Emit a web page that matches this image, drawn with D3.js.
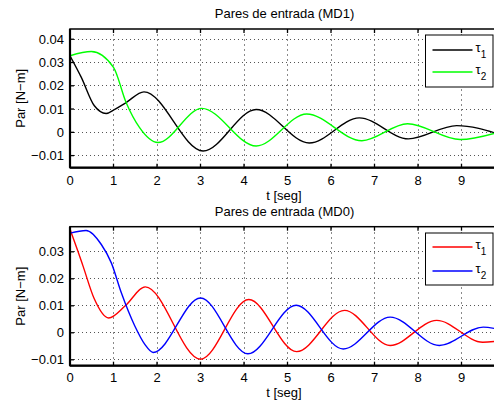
<!DOCTYPE html>
<html>
<head>
<meta charset="utf-8">
<script src="https://cdn.jsdelivr.net/npm/d3@7"></script>
<style>
  html, body { margin: 0; padding: 0; background: #fff; }
  svg { display: block; }
  text { font-family: "Liberation Sans", Arial, Helvetica, sans-serif; fill: #000; }
</style>
</head>
<body>
<svg id="chart" width="494" height="404"></svg>
<script>
// ---------------- Data ----------------
const xTicks = [0, 1, 2, 3, 4, 5, 6, 7, 8, 9];
const yTicksTop = [-0.01, 0, 0.01, 0.02, 0.03, 0.04];
const yTicksBottom = [-0.01, 0, 0.01, 0.02, 0.03];

const titleTop = "Pares de entrada (MD1)";
const titleBottom = "Pares de entrada (MD0)";
const xLabel = "t [seg]";
const yLabel = "Par [N\u2212m]";

// MD1 — tau1 (black)
const md1Tau1T = [0, 0.26, 0.56, 0.83, 1.03, 1.29, 1.70, 3.06, 4.28, 5.50, 6.65, 7.78, 8.89, 9.9];
const md1Tau1V = [0.0329, 0.0236, 0.0114, 0.0081, 0.0099, 0.0128, 0.0174, -0.0080, 0.0098, -0.0046, 0.0062, -0.0028, 0.0029, -0.0010];
// MD1 — tau2 (green)
const md1Tau2T = [0, 0.49, 1.00, 1.29, 1.60, 2.02, 3.03, 4.28, 5.44, 6.71, 7.76, 8.97, 9.9];
const md1Tau2V = [0.0329, 0.0347, 0.0279, 0.0128, 0.0020, -0.0044, 0.0103, -0.0059, 0.0079, -0.0036, 0.0037, -0.0031, 0.0003];

// MD0 — tau1 (red)
const md0Tau1T = [0, 0.18, 0.30, 0.55, 0.89, 1.27, 1.73, 3.00, 4.11, 5.21, 6.31, 7.36, 8.43, 9.49, 9.9];
const md0Tau1V = [0.0384, 0.0303, 0.0247, 0.0129, 0.0055, 0.0100, 0.0170, -0.0098, 0.0123, -0.0070, 0.0083, -0.0047, 0.0046, -0.0035, -0.0030];
// MD0 — tau2 (blue)
const md0Tau2T = [0, 0.37, 0.72, 0.95, 1.18, 1.49, 1.72, 1.91, 3.00, 4.09, 5.20, 6.28, 7.36, 8.49, 9.50, 9.9];
const md0Tau2V = [0.0369, 0.0379, 0.0327, 0.0259, 0.0148, 0.0025, -0.0043, -0.0073, 0.0129, -0.0078, 0.0102, -0.0060, 0.0058, -0.0047, 0.0021, 0.0011];

const seriesNames = ["\u03c4", "\u03c4"];
const seriesSubs = ["1", "2"];

// ---------------- Drawing ----------------
const svg = d3.select("#chart");
const fontSize = 13;

function fmt(v) {
  if (Math.abs(v) < 1e-12) return "0";
  const s = d3.format(".2f")(Math.abs(v));
  return (v < 0 ? "\u2212" : "") + s;
}

function drawPanel(cfg) {
  const { left, right, top, bottom, xDomain, yDomain, yTicks, title, titleY, tickLabelY, xLabelY, series, legend, id } = cfg;
  const x = d3.scaleLinear().domain(xDomain).range([left, right]);
  const y = d3.scaleLinear().domain(yDomain).range([bottom, top]);
  const g = svg.append("g");

  // clip
  svg.append("clipPath").attr("id", "clip" + id)
    .append("rect").attr("x", left).attr("y", top).attr("width", right - left).attr("height", bottom - top);

  // grid
  g.append("g").selectAll("line").data(xTicks.filter(d => d > 0)).join("line")
    .attr("x1", d => x(d)).attr("x2", d => x(d)).attr("y1", top).attr("y2", bottom)
    .attr("stroke", "#8a8a8a").attr("stroke-width", 1).attr("stroke-dasharray", "2,3")
    .attr("shape-rendering", "crispEdges");
  g.append("g").selectAll("line").data(yTicks).join("line")
    .attr("x1", left).attr("x2", right).attr("y1", d => y(d)).attr("y2", d => y(d))
    .attr("stroke", "#555").attr("stroke-width", 1).attr("stroke-dasharray", "1,3")
    .attr("shape-rendering", "crispEdges");

  // series
  const line = d3.line().x(d => x(d[0])).y(d => y(d[1])).curve(d3.curveMonotoneX);
  series.forEach(s => {
    const pts = s.t.map((t, i) => [t, s.v[i]]);
    g.append("path").datum(pts).attr("d", line)
      .attr("fill", "none").attr("stroke", s.color).attr("stroke-width", 1.4)
      .attr("clip-path", `url(#clip${id})`);
  });

  // axes box
  g.append("rect").attr("x", left).attr("y", top).attr("width", right - left).attr("height", bottom - top)
    .attr("fill", "none").attr("stroke", "#000").attr("stroke-width", 1.5);
  g.append("line").attr("x1", left).attr("x2", left).attr("y1", top).attr("y2", bottom)
    .attr("stroke", "#000").attr("stroke-width", 2.2);
  g.append("line").attr("x1", left).attr("x2", right).attr("y1", bottom).attr("y2", bottom)
    .attr("stroke", "#000").attr("stroke-width", 2.2);

  // ticks (inward)
  const tl = 4;
  g.append("g").selectAll("line").data(xTicks).join("line")
    .attr("x1", d => x(d)).attr("x2", d => x(d)).attr("y1", bottom).attr("y2", bottom - tl)
    .attr("stroke", "#000").attr("stroke-width", 1.3);
  g.append("g").selectAll("line").data(xTicks).join("line")
    .attr("x1", d => x(d)).attr("x2", d => x(d)).attr("y1", top).attr("y2", top + tl)
    .attr("stroke", "#000").attr("stroke-width", 1.3);
  g.append("g").selectAll("line").data(yTicks).join("line")
    .attr("x1", left).attr("x2", left + tl).attr("y1", d => y(d)).attr("y2", d => y(d))
    .attr("stroke", "#000").attr("stroke-width", 1.3);

  // tick labels
  g.append("g").selectAll("text").data(xTicks).join("text")
    .attr("x", d => x(d)).attr("y", tickLabelY).attr("text-anchor", "middle")
    .attr("font-size", fontSize).text(d => d);
  g.append("g").selectAll("text").data(yTicks).join("text")
    .attr("x", left - 6).attr("y", d => y(d)).attr("dy", "0.35em").attr("text-anchor", "end")
    .attr("font-size", fontSize).text(fmt);

  // title & labels
  g.append("text").attr("x", 284.5).attr("y", titleY).attr("text-anchor", "middle")
    .attr("font-size", fontSize).text(title);
  g.append("text").attr("x", 284).attr("y", xLabelY).attr("text-anchor", "middle")
    .attr("font-size", fontSize).text(xLabel);
  g.append("text").attr("transform", `translate(24.5,${(top + bottom) / 2}) rotate(-90)`)
    .attr("text-anchor", "middle").attr("font-size", fontSize).text(yLabel);

  // legend
  const lg = g.append("g");
  lg.append("rect").attr("x", legend.x0).attr("y", legend.y0)
    .attr("width", legend.x1 - legend.x0).attr("height", legend.y1 - legend.y0)
    .attr("fill", "#fff").attr("stroke", "#000").attr("stroke-width", 1);
  series.forEach((s, i) => {
    const ly = legend.rows[i];
    lg.append("line").attr("x1", 432.5).attr("x2", 472.5).attr("y1", ly).attr("y2", ly)
      .attr("stroke", s.color).attr("stroke-width", 1.4);
    const t = lg.append("text").attr("x", 475.5).attr("y", ly + 2).attr("font-size", fontSize);
    t.append("tspan").text(seriesNames[i]);
    t.append("tspan").attr("dy", 6).attr("font-size", 10).text(seriesSubs[i]);
  });
}

drawPanel({
  id: 1, left: 70, right: 499, top: 29, bottom: 167.7,
  xDomain: [0, 429 / 43.5], yDomain: [-0.0152, 0.0444], yTicks: yTicksTop,
  title: titleTop, titleY: 18, tickLabelY: 184.5, xLabelY: 199.5,
  series: [
    { t: md1Tau1T, v: md1Tau1V, color: "#000000" },
    { t: md1Tau2T, v: md1Tau2V, color: "#00ff00" }
  ],
  legend: { x0: 425.5, x1: 493, y0: 35, y1: 87, rows: [50, 72] }
});

drawPanel({
  id: 2, left: 70, right: 499, top: 226.7, bottom: 365.7,
  xDomain: [0, 429 / 43.5], yDomain: [-0.0122, 0.0393], yTicks: yTicksBottom,
  title: titleBottom, titleY: 215.5, tickLabelY: 382, xLabelY: 397,
  series: [
    { t: md0Tau1T, v: md0Tau1V, color: "#ff0000" },
    { t: md0Tau2T, v: md0Tau2V, color: "#0000ff" }
  ],
  legend: { x0: 425.5, x1: 493, y0: 233, y1: 285, rows: [247, 271] }
});
</script>
</body>
</html>
